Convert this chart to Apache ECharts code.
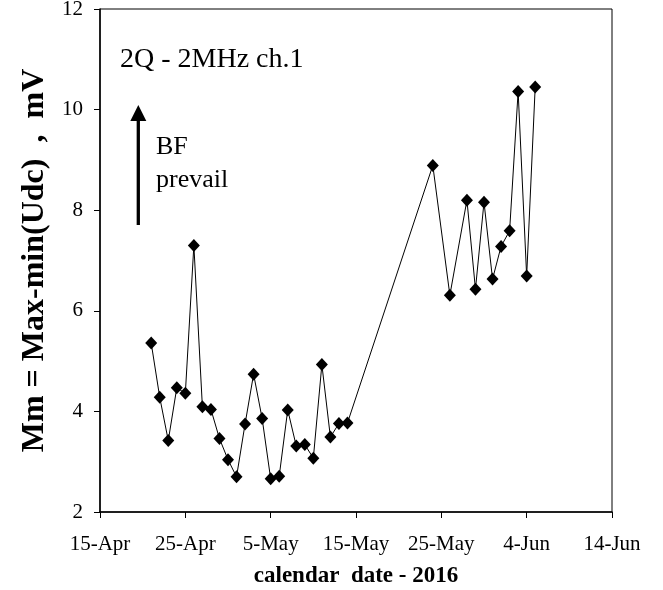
<!DOCTYPE html>
<html>
<head>
<meta charset="utf-8">
<script src="https://cdn.jsdelivr.net/npm/echarts@6/dist/echarts.min.js"></script>
<style>
  html, body { margin: 0; padding: 0; background: #fff; }
  #chart { width: 663px; height: 590px; }
</style>
</head>
<body>
<div id="chart"></div>
<script>
// measurement dates (2016) and values, mV
const dates = [
  '2016-04-21', '2016-04-22', '2016-04-23', '2016-04-24', '2016-04-25',
  '2016-04-26', '2016-04-27', '2016-04-28', '2016-04-29', '2016-04-30',
  '2016-05-01', '2016-05-02', '2016-05-03', '2016-05-04', '2016-05-05',
  '2016-05-06', '2016-05-07', '2016-05-08', '2016-05-09', '2016-05-10',
  '2016-05-11', '2016-05-12', '2016-05-13', '2016-05-14',
  '2016-05-24', '2016-05-26', '2016-05-28', '2016-05-29', '2016-05-30',
  '2016-05-31', '2016-06-01', '2016-06-02', '2016-06-03', '2016-06-04',
  '2016-06-05'
]
const values = [
  5.36, 4.28, 3.42, 4.47, 4.36,
  7.30, 4.09, 4.04, 3.46, 3.04,
  2.70, 3.75, 4.74, 3.86, 2.66,
  2.71, 4.03, 3.31, 3.34, 3.07,
  4.93, 3.49, 3.76, 3.77,
  8.89, 6.31, 8.20, 6.43, 8.16,
  6.63, 7.28, 7.59, 10.36, 6.69,
  10.45
]
const xTickLabels = ['15-Apr', '25-Apr', '5-May', '15-May', '25-May', '4-Jun', '14-Jun']

const startDay = Date.UTC(2016, 3, 15)
const dayMs = 86400000
const font = '"Liberation Serif", "Times New Roman", serif'

// x = days since 15-Apr
const seriesData = dates.map((d, i) => {
  const p = d.split('-')
  const t = Date.UTC(+p[0], +p[1] - 1, +p[2])
  return [(t - startDay) / dayMs, values[i]]
})

const chart = echarts.init(document.getElementById('chart'))
chart.setOption({
  animation: false,
  grid: {
    left: 100,
    top: 9,
    width: 512,
    height: 503,
    outerBoundsMode: 'none', // keep the plot box fixed
    show: true,
    borderColor: '#000',
    borderWidth: 1
  },
  xAxis: {
    type: 'value',
    min: 0,
    max: 60,
    interval: 10,
    name: 'calendar  date - 2016',
    nameLocation: 'middle',
    nameGap: 53,
    nameTextStyle: { fontFamily: font, fontWeight: 'bold', fontSize: 23, color: '#000' },
    axisLine: { lineStyle: { color: '#000', width: 1.5 } },
    axisTick: { show: true, inside: false, length: 6, lineStyle: { color: '#000' } },
    axisLabel: {
      margin: 22,
      fontFamily: font,
      fontSize: 21,
      color: '#000',
      formatter: v => xTickLabels[Math.round(v / 10)]
    },
    splitLine: { show: false }
  },
  yAxis: {
    type: 'value',
    min: 2,
    max: 12,
    interval: 2,
    name: 'Mm = Max-min(Udc)  ,  mV',
    nameLocation: 'middle',
    nameGap: 45,
    nameTextStyle: { fontFamily: font, fontWeight: 'bold', fontSize: 32, color: '#000' },
    axisLine: { lineStyle: { color: '#000', width: 1.5 } },
    axisTick: { show: true, inside: false, length: 6, lineStyle: { color: '#000' } },
    axisLabel: { margin: 17, fontFamily: font, fontSize: 21, color: '#000' },
    splitLine: { show: false }
  },
  series: [{
    type: 'line',
    data: seriesData,
    symbol: 'diamond',
    symbolSize: [12, 13],
    showAllSymbol: true,
    lineStyle: { color: '#000', width: 1 },
    itemStyle: { color: '#000' }
  }],
  graphic: [
    {
      type: 'text', left: 120, top: 46,
      style: { text: '2Q - 2MHz ch.1', font: '28px ' + font, fill: '#000' }
    },
    {
      type: 'line',
      shape: { x1: 138.3, y1: 225, x2: 138.3, y2: 118 },
      style: { stroke: '#000', lineWidth: 3.3 }
    },
    {
      type: 'polygon',
      shape: { points: [[138.3, 105], [130.3, 121], [146.3, 121]] },
      style: { fill: '#000' }
    },
    {
      type: 'text', left: 156, top: 131,
      style: { text: 'BF\nprevail', font: '26px ' + font, lineHeight: 33, fill: '#000' }
    }
  ]
})
</script>
</body>
</html>
